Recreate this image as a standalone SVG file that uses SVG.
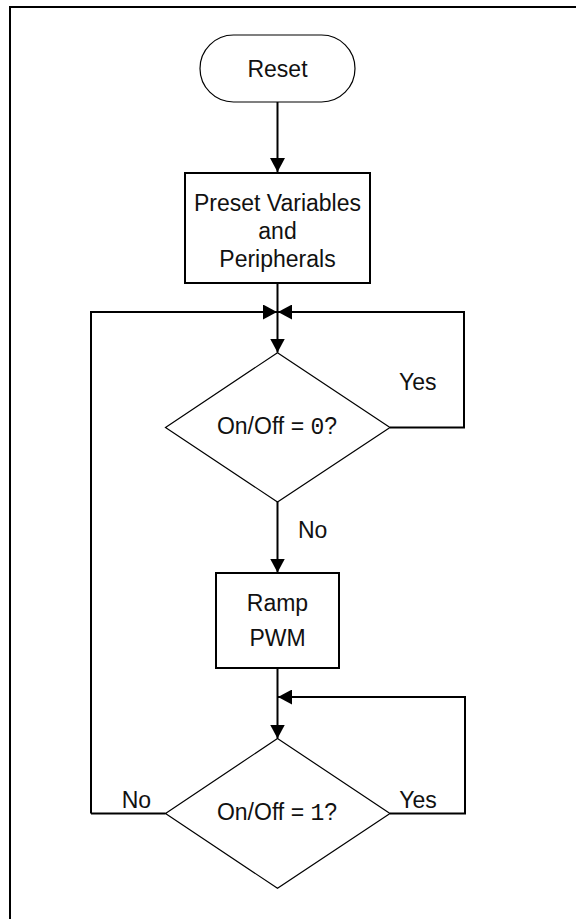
<svg xmlns="http://www.w3.org/2000/svg" width="576" height="919" viewBox="0 0 576 919">
<style>
.t{font-family:"Liberation Sans",Arial,Helvetica,sans-serif;font-size:23px;fill:#111;text-anchor:middle}
.l{font-family:"Liberation Sans",Arial,Helvetica,sans-serif;font-size:23px;fill:#111}
.m{font-family:"Liberation Mono","Courier New",monospace}
.thin{fill:#fff;stroke:#000;stroke-width:1.2}
.box{fill:#fff;stroke:#000;stroke-width:2}
.c{fill:none;stroke:#000;stroke-width:2}
</style>
<defs>
<marker id="ah" markerUnits="userSpaceOnUse" markerWidth="14" markerHeight="15" refX="14" refY="7.5" orient="auto">
<path d="M0,0 L14,7.5 L0,15 z" fill="#000"/>
</marker>
</defs>
<path d="M10,919 V7 H576" fill="none" stroke="#000" stroke-width="2"/>
<g id="connectors">
<path class="c" d="M277.5,102 V172" marker-end="url(#ah)"/>
<path class="c" d="M277.5,283 V352.5" marker-end="url(#ah)"/>
<path class="c" d="M91,813.5 H165.5 M91,813.5 V312 H277" marker-end="url(#ah)"/>
<path class="c" d="M390,427.5 H464 V312 H278" marker-end="url(#ah)"/>
<path class="c" d="M277.5,502 V572.5" marker-end="url(#ah)"/>
<path class="c" d="M277.5,668 V738.5" marker-end="url(#ah)"/>
<path class="c" d="M390,813.5 H465 V697 H278" marker-end="url(#ah)"/>
</g>
<g id="reset">
<rect class="thin" x="200" y="35" width="155" height="67" rx="33.5" ry="33.5"/>
<text class="t" x="277.5" y="77.3">Reset</text>
</g>
<g id="preset">
<rect class="box" x="185" y="173" width="185" height="110"/>
<text class="t" x="277.5" y="210.5">Preset Variables</text>
<text class="t" x="277.5" y="238.7">and</text>
<text class="t" x="277.5" y="266.7">Peripherals</text>
</g>
<g id="decision1">
<polygon class="thin" points="277.5,352.7 390,427.5 277.5,502 165.5,427.5"/>
<text class="t" x="277" y="434">On/Off = <tspan class="m">0</tspan>?</text>
</g>
<text class="l" x="399" y="390">Yes</text>
<text class="l" x="298" y="538.3">No</text>
<g id="ramp">
<rect class="box" x="216" y="573" width="123" height="95"/>
<text class="t" x="277.5" y="610.7">Ramp</text>
<text class="t" x="277.5" y="645.8">PWM</text>
</g>
<g id="decision2">
<polygon class="thin" points="277.5,738.5 390,813.5 277.5,888.3 165.5,813.5"/>
<text class="t" x="277" y="820">On/Off = <tspan class="m">1</tspan>?</text>
</g>
<text class="l" x="121.7" y="808.3">No</text>
<text class="l" x="399.3" y="808.3">Yes</text>
</svg>
